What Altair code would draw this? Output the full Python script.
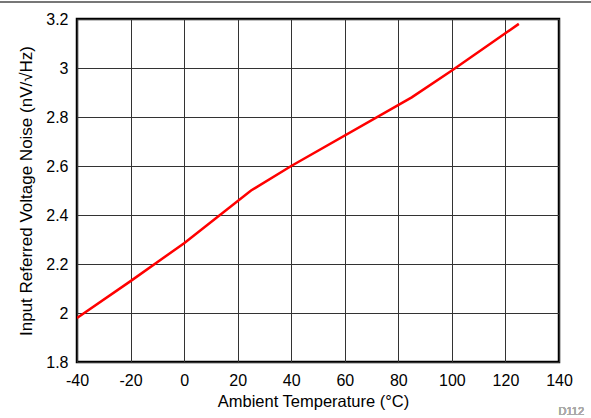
import altair as alt
import pandas as pd

temps = [-40, -20, 0, 25, 40, 85, 100, 125]
noise = [1.98, 2.13, 2.285, 2.50, 2.60, 2.88, 2.99, 3.18]
x_ticks = [-40, -20, 0, 20, 40, 60, 80, 100, 120, 140]
y_ticks = [1.8, 2.0, 2.2, 2.4, 2.6, 2.8, 3.0, 3.2]

df = pd.DataFrame({"t": temps, "n": noise})

FONT = "Liberation Sans"

line = alt.Chart(df).mark_line(color="#FF0000", strokeWidth=2.5, clip=True).encode(
    x=alt.X("t:Q", scale=alt.Scale(domain=[-40, 140], nice=False),
            axis=alt.Axis(values=x_ticks, title="Ambient Temperature (°C)",
                          labelExpr="toString(datum.value)",
                          grid=True, gridColor="#333333", gridWidth=1, ticks=False,
                          domain=False, labelPadding=10, titlePadding=5,
                          labelFlush=False, labelOverlap=False,
                          labelFontSize=16, titleFontSize=16.5, labelColor="black",
                          titleColor="black", labelFont=FONT, titleFont=FONT,
                          titleX=236, titleFontWeight="normal")),
    y=alt.Y("n:Q", scale=alt.Scale(domain=[1.8, 3.2], nice=False, zero=False),
            axis=alt.Axis(values=y_ticks,
                          labelExpr="format(datum.value, '.1~f')",
                          title="Input Referred Voltage Noise (nV/√Hz)",
                          grid=True, gridColor="#333333", gridWidth=1, ticks=False,
                          domain=False, labelPadding=9, titlePadding=10,
                          labelFlush=False, labelOverlap=False,
                          labelFontSize=16, titleFontSize=17, labelColor="black",
                          titleColor="black", labelFont=FONT, titleFont=FONT,
                          titleFontWeight="normal")),
)

topline = alt.Chart(df).mark_rule(color="#777777", strokeWidth=1.5).encode(
    x=alt.value(-77), x2=alt.value(514), y=alt.value(-17)
)

tag = alt.Chart(df).mark_text(text="D112", font=FONT, fontSize=11, color="#aaaaaa",
                              align="right", baseline="alphabetic").encode(
    x=alt.value(507), y=alt.value(396)
)

chart = alt.layer(line, topline, tag).properties(
    width=482, height=343,
    padding={"left": 77, "top": 19, "right": 32, "bottom": 56},
    autosize=alt.AutoSizeParams(type="none"),
    background="white",
).configure_view(stroke="black", strokeWidth=2.5)

chart.save("out.html", embed_options={"renderer": "svg", "actions": False})
